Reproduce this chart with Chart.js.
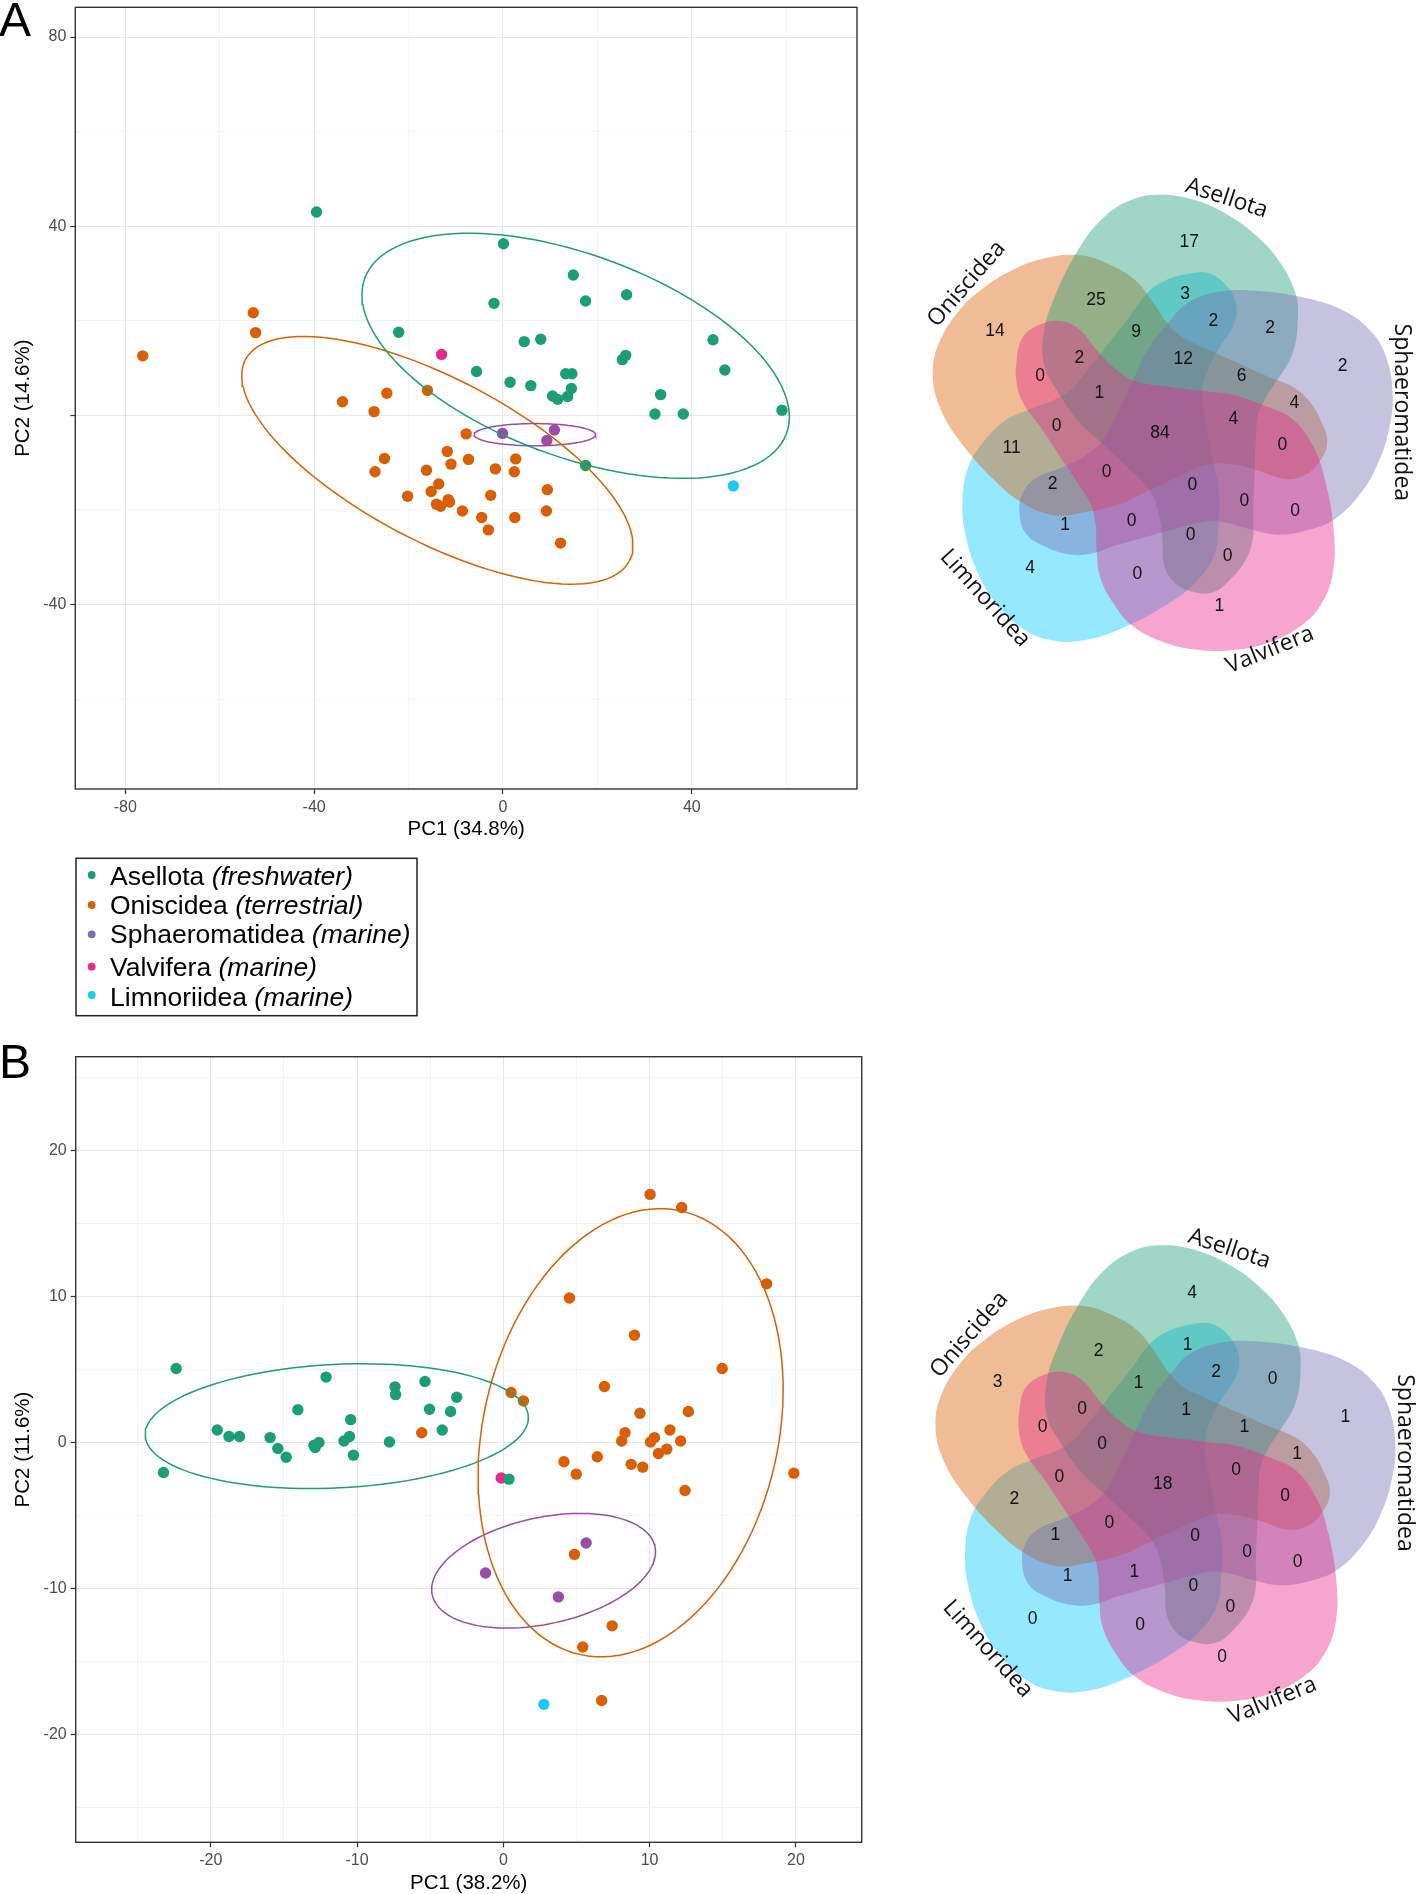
<!DOCTYPE html>
<html>
<head>
<meta charset="utf-8">
<script src="https://cdn.jsdelivr.net/npm/chart.js@4.4.1/dist/chart.umd.min.js"></script>
<style>
  html, body { margin: 0; padding: 0; background: #fff; width: 1417px; height: 1894px; overflow: hidden; }
  canvas { position: absolute; }
</style>
</head>
<body>
<canvas id="pcaA" width="880" height="1030" style="left:0px;top:0px"></canvas>
<canvas id="vennA" width="537" height="620" style="left:880px;top:120px"></canvas>
<canvas id="pcaB" width="880" height="856" style="left:0px;top:1040px"></canvas>
<canvas id="vennB" width="537" height="620" style="left:880px;top:1170px"></canvas>
<script>
const FONT = '"Liberation Sans", Arial, sans-serif';

// groups
const groups = ['Asellota', 'Oniscidea', 'Sphaeromatidea', 'Valvifera', 'Limnoriidea'];
const habitats = ['freshwater', 'terrestrial', 'marine', 'marine', 'marine'];
const pointColors = ['#1b9e77', '#d95f02', '#984ea3', '#e7298a', '#1bc9f3'];
const legendColors = ['#1b9e77', '#d95f02', '#7570b3', '#e7298a', '#1bc9f3'];

// panel A - PCA scores (PC1, PC2)
const aAsellota = [[-39.5,43.0],[0.1,36.3],[14.9,29.7],[26.2,25.5],[-1.9,23.7],[17.5,24.2],[-22.1,17.6],[4.5,15.6],[8.0,16.1],[44.5,16.0],[25.3,11.8],[26.0,12.7],[-5.6,9.3],[47.0,9.6],[1.5,7.0],[5.9,6.3],[13.3,8.8],[14.6,8.8],[14.5,5.7],[10.5,4.1],[11.6,3.4],[13.7,4.0],[33.4,4.4],[32.2,0.3],[38.2,0.3],[59.1,1.1],[17.5,-10.6]];
const aOniscidea = [[-76.3,12.6],[-52.9,21.7],[-52.4,17.5],[-34.0,2.9],[-27.3,0.8],[-24.6,4.7],[-16.0,5.3],[-7.8,-3.9],[-11.8,-7.6],[-11.0,-10.3],[-7.3,-9.3],[-25.1,-9.1],[-27.1,-11.9],[-16.2,-11.6],[-1.6,-11.3],[2.7,-9.2],[2.4,-11.9],[-13.6,-14.5],[-15.2,-16.1],[-20.2,-17.1],[-14.1,-18.8],[-13.2,-19.2],[-11.6,-17.8],[-11.3,-18.3],[-2.6,-16.9],[9.4,-15.7],[-8.6,-20.2],[-4.5,-21.6],[2.5,-21.6],[9.2,-20.2],[-3.1,-24.2],[12.2,-27.0]];
const aSphaeromatidea = [[-0.1,-3.8],[10.9,-3.1],[9.3,-5.3]];
const aValvifera = [[-13.0,12.9]];
const aLimnoriidea = [[48.8,-14.9]];
// ellipses: centre x, centre y, then two conjugate semi-axis vectors
const ellA_asellota = [15.4, 12.6, 44.6, -16.6, -7.8, -19.9];
const ellA_oniscidea = [-13.9, -9.5, 40.6, -21.4, -8.3, -15.1];
const ellA_sphaeromatidea = [6.76, -4.08, 12.87, 0, 0, -2.35];

// panel B
const bAsellota = [[-22.37,5.07],[-23.24,-2.05],[-19.56,0.86],[-18.76,0.41],[-18.04,0.41],[-15.95,0.34],[-15.42,-0.41],[-14.85,-1.01],[-14.05,2.24],[-12.12,4.48],[-12.95,-0.19],[-12.61,0.0],[-12.87,-0.34],[-10.90,0.11],[-10.44,1.57],[-10.52,0.41],[-10.25,-0.86],[-7.41,3.81],[-7.37,3.28],[-7.79,0.04],[-5.36,4.18],[-5.05,2.28],[-4.18,0.86],[-3.61,2.13],[-3.19,3.10],[0.38,-2.50]];
const bOniscidea = [[-5.58,0.67],[0.53,3.43],[1.37,2.84],[4.52,9.89],[8.96,7.35],[10.03,16.98],[12.19,16.08],[18.0,10.86],[14.96,5.07],[6.91,3.84],[9.34,2.01],[12.65,2.13],[8.32,0.67],[8.09,0.11],[11.39,0.86],[10.06,0.04],[10.33,0.34],[12.12,0.11],[10.60,-0.75],[11.17,-0.45],[4.14,-1.31],[4.98,-2.16],[6.42,-0.97],[8.74,-1.49],[9.53,-1.68],[12.42,-3.28],[19.86,-2.09],[4.86,-7.65],[7.44,-12.54],[5.43,-13.99],[6.72,-17.65]];
const bSphaeromatidea = [[-1.22,-8.92],[5.66,-6.87],[3.76,-10.56]];
const bValvifera = [[-0.15,-2.43]];
const bLimnoriidea = [[2.77,-17.91]];
const ellB_asellota = [-11.39, 1.12, 13.10, 0.65, 0.22, -4.22];
const ellB_oniscidea = [8.70, 0.67, 3.43, 15.18, 9.85, -2.15];
const ellB_sphaeromatidea = [2.75, -8.77, 7.61, 1.67, 0.81, -3.55];

// axis ticks
const ticksAx = [-80, -60, -40, -20, 0, 20, 40, 60];
const majorAx = [-80, -40, 0, 40];
const ticksAy = [-60, -40, -20, 0, 20, 40, 60, 80];
const majorAy = [-40, 0, 40, 80];
const labelAy = [-40, 40, 80];   // the 0 tick has no label in the figure
const ticksBx = [-25, -20, -15, -10, -5, 0, 5, 10, 15, 20];
const majorBx = [-20, -10, 0, 10, 20];
const ticksBy = [-25, -20, -15, -10, -5, 0, 5, 10, 15, 20, 25];
const majorBy = [-20, -10, 0, 10, 20];

// venn diagrams (shared-gene counts per region)
const vennSets = ['Asellota', 'Sphaeromatidea', 'Valvifera', 'Limnoridea', 'Oniscidea'];
const vennFill = ['rgba(27,158,119,0.42)', 'rgba(117,112,179,0.42)', 'rgba(231,41,138,0.42)', 'rgba(0,200,255,0.42)', 'rgba(217,95,2,0.42)'];
const vennLayer = [2, 1, 0, 4, 3];   // 0 = painted last (on top)
const vennA_counts = [17, 3, 25, 9, 2, 2, 14, 2, 12, 2, 0, 6, 1, 4, 4, 0, 84, 0, 11, 0, 2, 0, 0, 0, 1, 0, 0, 0, 4, 0, 1];
const vennB_counts = [4, 1, 2, 1, 2, 0, 3, 0, 1, 1, 0, 1, 0, 1, 0, 0, 18, 0, 2, 0, 1, 0, 0, 0, 1, 1, 0, 0, 0, 0, 0];

// venn layout (px from diagram centre, y down)
const vennRegionPos = [[29.3,-190.7],[25,-139.3],[-64,-133.3],[-24,-101],[53.3,-111.7],[110,-105],[-165,-101.7],[-80.7,-75],[23.3,-74],[182.7,-66.7],[-120,-56.7],[81.7,-56.7],[-60.7,-40],[134.3,-30],[73.3,-14],[-103.3,-6.7],[0,0],[122.3,12.3],[-148.3,15],[-53.3,39],[-107.3,50.7],[32.3,52.3],[84.3,68.3],[135,78.3],[-95,92.3],[-28.3,88.3],[30.7,102.3],[67.7,123.3],[-130,135],[-22.7,140.7],[59.3,173.3]];
const vennLabelPos = [[66.7,-235,18], [242,-21,90], [110,216.7,-22], [-175,165,48], [-193.3,-149.3,-49]];
const vennRotation = [-144, -72, 0, 72, 148];
// outline of one set (Valvifera); the others are the same blob turned round the centre
const vennOutline = [[-64,93.3],[-63.3,116.7],[-60,143.3],[-46.7,170],[-26.7,193.3],[6.7,210],[40,216.7],[73.3,216.7],[106.7,210],[140,193.3],[161.7,170],[173.3,136.7],[173.3,93.3],[165,46.7],[153.3,13.3],[133.3,-13.3],[106.7,-26.7],[73.3,-38.3],[46.7,-41.7],[6.7,-46.7],[-23.3,-51.7],[-43.3,-63.3],[-63.3,-83.3],[-80,-103.3],[-96.7,-111.7],[-116.7,-110],[-136.7,-96.7],[-143.3,-73.3],[-143.3,-50],[-136.7,-30],[-120,-6.7],[-100,23.3],[-80,53.3],[-68.3,73.3],[-64,93.3]];

// ---------- helpers ----------
function toXY(arr) { return arr.map(([x, y]) => ({x, y})); }

function ellipsePts(e) {
  const [cx, cy, ux, uy, vx, vy] = e;
  const out = [];
  for (let i = 0; i <= 120; i++) {
    const t = i / 120 * 2 * Math.PI;
    out.push({x: cx + ux * Math.cos(t) + vx * Math.sin(t), y: cy + uy * Math.cos(t) + vy * Math.sin(t)});
  }
  return out;
}

function pointSet(pts, color) {
  return { data: toXY(pts), backgroundColor: color, borderWidth: 0, pointRadius: 5.7, pointHoverRadius: 5.7 };
}
function ellipseSet(e, color) {
  return { data: ellipsePts(e), showLine: true, borderColor: color, borderWidth: 1.5, pointRadius: 0, fill: false, tension: 0 };
}

function axis(pos, min, max, ticks, majors, labelled, title, size) {
  const isMajor = c => c.tick && majors.includes(c.tick.value);
  return {
    type: 'linear', position: pos, min, max,
    afterBuildTicks: s => { s.ticks = ticks.map(v => ({value: v})); },
    afterFit: s => {
      if (pos === 'bottom') { s.height = size; s.paddingLeft = 0; s.paddingRight = 0; }
      else { s.width = size; s.paddingTop = 0; s.paddingBottom = 0; }
    },
    ticks: {
      autoSkip: false, maxRotation: 0, padding: 4, color: '#4d4d4d',
      font: {family: FONT, size: 16},
      callback: v => labelled.includes(v) ? String(v) : ''
    },
    grid: {
      color: c => isMajor(c) ? '#e6e6e6' : '#f2f2f2',
      lineWidth: 1, tickLength: 5, tickWidth: 1.2,
      tickColor: c => isMajor(c) ? '#333' : 'rgba(0,0,0,0)'
    },
    border: { display: false },
    title: {
      display: true, text: title, color: '#000',
      font: {family: FONT, size: 20.5},
      padding: pos === 'bottom' ? {top: 0, bottom: 0} : {top: 11, bottom: 0}
    }
  };
}

// frame, panel letter and (for A) the legend box
const panelDecor = {
  id: 'panelDecor',
  afterDraw(chart, args, o) {
    const {ctx, chartArea: a} = chart;
    ctx.save();
    ctx.strokeStyle = '#333';
    ctx.lineWidth = 1.4;
    ctx.strokeRect(a.left, a.top, a.right - a.left, a.bottom - a.top);
    ctx.fillStyle = '#000';
    ctx.font = '48px ' + FONT;
    ctx.textBaseline = 'alphabetic';
    ctx.fillText(o.letter, -1, o.letterY);
    if (o.legend) {
      const baseY = [885, 914, 943.3, 976, 1005.5];
      const dotY = [875, 905, 934.3, 966.7, 995];
      ctx.lineWidth = 1.5;
      ctx.strokeStyle = '#222';
      ctx.strokeRect(76, 858.3, 341, 157.4);
      groups.forEach((g, i) => {
        ctx.fillStyle = legendColors[i];
        ctx.beginPath();
        ctx.arc(91.7, dotY[i], 3.9, 0, 2 * Math.PI);
        ctx.fill();
        ctx.fillStyle = '#000';
        ctx.font = '26.5px ' + FONT;
        const name = g + ' ';
        ctx.fillText(name, 110, baseY[i]);
        const w = ctx.measureText(name).width;
        ctx.font = 'italic 26.5px ' + FONT;
        ctx.fillText('(' + habitats[i] + ')', 110 + w, baseY[i]);
      });
    }
    ctx.restore();
  }
};

function pcaChart(id, sets, ells, sx, sy, opts) {
  const datasets = [
    ellipseSet(ells[0], pointColors[0]),
    ellipseSet(ells[1], pointColors[1]),
    ellipseSet(ells[2], pointColors[2]),
    ...sets.map((s, i) => pointSet(s, pointColors[i]))
  ];
  return new Chart(document.getElementById(id), {
    type: 'scatter',
    data: { datasets },
    options: {
      responsive: false, animation: false, events: [], devicePixelRatio: 1,
      layout: { padding: opts.padding },
      scales: { x: sx, y: sy },
      plugins: { legend: {display: false}, tooltip: {enabled: false}, panelDecor: opts.decor }
    },
    plugins: [panelDecor]
  });
}

pcaChart('pcaA',
  [aAsellota, aOniscidea, aSphaeromatidea, aValvifera, aLimnoriidea],
  [ellA_asellota, ellA_oniscidea, ellA_sphaeromatidea],
  axis('bottom', -90.6, 75.0, ticksAx, majorAx, majorAx, 'PC1 (34.8%)', 53),
  axis('left', -79.0, 86.3, ticksAy, majorAy, labelAy, 'PC2 (14.6%)', 75.3),
  { padding: {left: 0, top: 7.3, right: 23, bottom: 188}, decor: {letter: 'A', letterY: 36, legend: true} });

pcaChart('pcaB',
  [bAsellota, bOniscidea, bSphaeromatidea, bValvifera, bLimnoriidea],
  [ellB_asellota, ellB_oniscidea, ellB_sphaeromatidea],
  axis('bottom', -29.24, 24.5, ticksBx, majorBx, majorBx, 'PC1 (38.2%)', 53),
  axis('left', -27.35, 26.4, ticksBy, majorBy, majorBy, 'PC2 (11.6%)', 75.7),
  { padding: {left: 0, top: 16.7, right: 18.3, bottom: 0.7}, decor: {letter: 'B', letterY: 38, legend: false} });

// ---------- venn ----------
function turned(deg) {
  const r = deg * Math.PI / 180, c = Math.cos(r), s = Math.sin(r);
  return vennOutline.map(([x, y]) => ({x: x * c - y * s, y: x * s + y * c}));
}

const vennText = {
  id: 'vennText',
  afterDatasetsDraw(chart, args, o) {
    const {ctx, scales: {x, y}} = chart;
    ctx.save();
    ctx.fillStyle = '#111';
    ctx.textAlign = 'center';
    ctx.textBaseline = 'middle';
    ctx.font = '17.5px ' + FONT;
    o.counts.forEach((n, i) => {
      ctx.fillText(String(n), x.getPixelForValue(vennRegionPos[i][0]), y.getPixelForValue(vennRegionPos[i][1]));
    });
    ctx.font = '23px "Open Sans", sans-serif';
    vennSets.forEach((name, i) => {
      const [lx, ly, rot] = vennLabelPos[i];
      ctx.save();
      ctx.translate(x.getPixelForValue(lx), y.getPixelForValue(ly));
      ctx.rotate(rot * Math.PI / 180);
      ctx.fillText(name, 0, 0);
      ctx.restore();
    });
    ctx.restore();
  }
};

function vennChart(id, counts, cx, cy, w, h) {
  return new Chart(document.getElementById(id), {
    type: 'line',
    data: {
      datasets: vennSets.map((name, i) => ({
        label: name, data: turned(vennRotation[i]), order: vennLayer[i],
        backgroundColor: vennFill[i], borderColor: 'rgba(0,0,0,0)', borderWidth: 0,
        pointRadius: 0, fill: 'shape', tension: 0.4
      }))
    },
    options: {
      responsive: false, animation: false, events: [], devicePixelRatio: 1,
      layout: { padding: 0 },
      scales: {
        x: { type: 'linear', display: false, min: -cx, max: w - cx },
        y: { type: 'linear', display: false, reverse: true, min: -cy, max: h - cy }
      },
      plugins: { legend: {display: false}, tooltip: {enabled: false}, vennText: { counts } }
    },
    plugins: [vennText]
  });
}

vennChart('vennA', vennA_counts, 280, 313.3, 537, 620);
vennChart('vennB', vennB_counts, 282.7, 314, 537, 620);
</script>
</body>
</html>
